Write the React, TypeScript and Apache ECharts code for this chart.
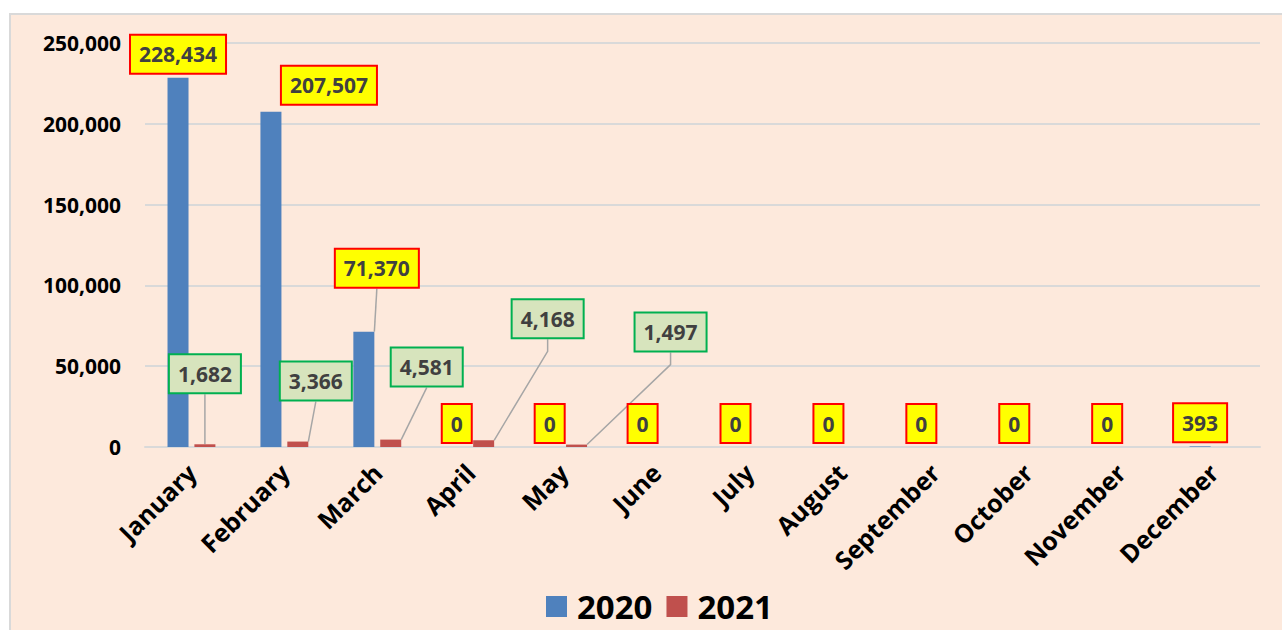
import React, { useEffect, useRef } from "react";
import * as echarts from "echarts";

const months = ["January", "February", "March", "April", "May", "June", "July", "August", "September", "October", "November", "December"];
const yTicks = [0, 50000, 100000, 150000, 200000, 250000];
const values2020: (number | null)[] = [228434, 207507, 71370, 0, 0, 0, 0, 0, 0, 0, 0, 393];
const values2021: (number | null)[] = [1682, 3366, 4581, 4168, 1497, null, null, null, null, null, null, null];

// label placement (styles, not data)
const offsets2020: [number, number][] = [[0, 0], [58, -3], [13, -40], [0, 0], [0, 0], [0, 0], [0, 0], [0, 0], [0, 0], [0, 0], [0, 0], [0, 0]];
const lines2020: boolean[] = [false, false, true, false, false, false, false, false, false, false, false, false];
const offsets2021: [number, number][] = [[0, -47], [18, -37], [36, -49], [64, -98], [94, -89]];
const length2_2021: number[] = [0, 0, 0, 12, 12];

const fmt = (v: number) => v.toLocaleString("en-US");
const FONT = "'Open Sans', 'Noto Sans', sans-serif";

export default function App() {
  const ref = useRef<HTMLDivElement>(null);
  useEffect(() => {
    if (!ref.current) return;
    const chart = echarts.init(ref.current, undefined, { renderer: "svg" });
    const lineStyle = { color: "#A6A6A6", width: 1.5 };
    const baseLabel = {
      show: true,
      position: "top" as const,
      distance: 5,
      fontFamily: FONT,
      fontWeight: "bold" as const,
      fontSize: 21,
      lineHeight: 25,
      color: "#404040",
      padding: [6, 8, 6, 8],
      borderWidth: 2,
      formatter: (p: any) => fmt(p.value),
    };
    const data2020 = values2020.map((v, i) => ({
      value: v,
      labelLine: { show: lines2020[i], lineStyle },
    }));
    const data2021 = values2021.map((v, i) =>
      v == null
        ? { value: null }
        : {
            value: v,
            labelLine: { show: true, length2: length2_2021[i], lineStyle },
          }
    );
    const layout = (offs: [number, number][]) => (p: any) => {
      const o = offs[p.dataIndex] || [0, 0];
      return { dx: o[0], dy: o[1] };
    };
    chart.setOption({
      animation: false,
      backgroundColor: "#ffffff",
      textStyle: { fontFamily: FONT },
      graphic: [
        {
          type: "rect",
          z: -10,
          silent: true,
          shape: { x: 10, y: 14, width: 1300, height: 700 },
          style: { fill: "#FDE9DC", stroke: "#D9D9D9", lineWidth: 2 },
        },
      ],
      grid: { left: 145, right: 22, top: 43, bottom: 183 },
      legend: {
        bottom: 2,
        left: 541,
        itemWidth: 21,
        itemHeight: 21,
        itemGap: 14,
        icon: "rect",
        textStyle: { fontFamily: FONT, fontWeight: "bold", fontSize: 33, color: "#000", padding: [0, 0, 0, 5] },
        data: ["2020", "2021"],
      },
      xAxis: {
        type: "category",
        data: months,
        axisTick: { show: false },
        axisLine: { lineStyle: { color: "#D9D9D9", width: 2 } },
        axisLabel: {
          rotate: 45,
          margin: 21,
          interval: 0,
          fontFamily: FONT,
          fontWeight: "bold",
          fontSize: 25,
          color: "#000",
        },
      },
      yAxis: {
        type: "value",
        min: yTicks[0],
        max: yTicks[yTicks.length - 1],
        interval: yTicks[1] - yTicks[0],
        axisLine: { show: false },
        axisTick: { show: false },
        splitLine: { lineStyle: { color: "#D9D9D9", width: 2 } },
        axisLabel: {
          margin: 24,
          fontFamily: FONT,
          fontWeight: "bold",
          fontSize: 21,
          color: "#000",
          formatter: (v: number) => fmt(v),
        },
      },
      series: [
        {
          name: "2020",
          type: "bar",
          barWidth: 21,
          barGap: "28%",
          itemStyle: { color: "#4F81BD" },
          label: { ...baseLabel, backgroundColor: "#FFFF00", borderColor: "#FF0000" },
          labelLayout: layout(offsets2020),
          data: data2020,
        },
        {
          name: "2021",
          type: "bar",
          barWidth: 21,
          itemStyle: { color: "#C0504D" },
          label: { ...baseLabel, backgroundColor: "#D7E4BD", borderColor: "#00B050" },
          labelLayout: layout(offsets2021),
          data: data2021,
        },
      ],
    });
    return () => chart.dispose();
  }, []);
  return <div ref={ref} style={{ position: "absolute", left: 0, top: 0, width: 1282, height: 630 }} />;
}
